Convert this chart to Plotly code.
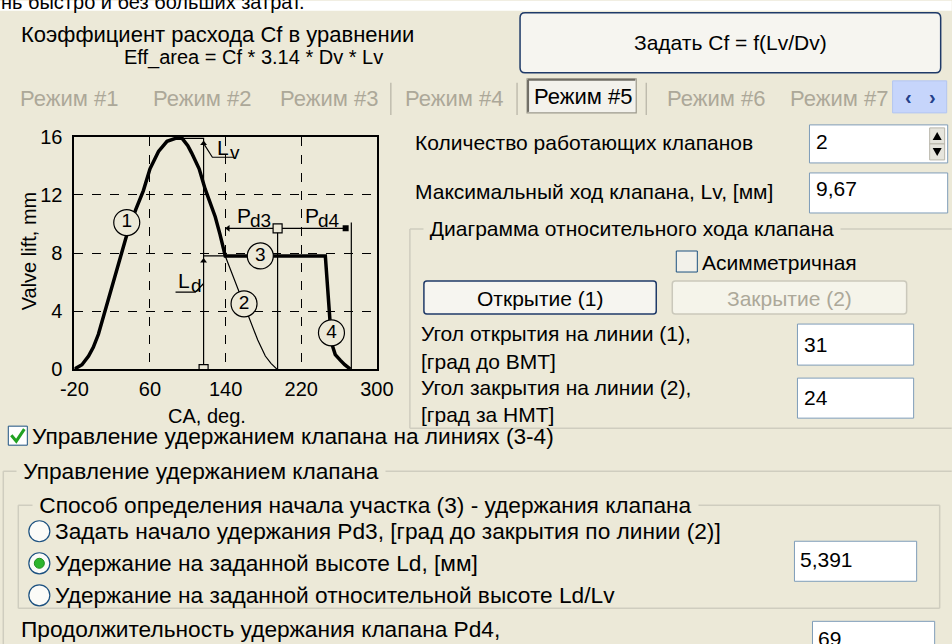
import plotly.graph_objects as go

# ── Data ────────────────────────────────────────────────────────
# thick line: opening (1), closing (2) down to hold level, hold (3), final closing (4)
lift_ca = [-20, -12, -5, 0, 5.4, 12.5, 21, 30, 37, 45, 53, 60, 69, 78, 87, 94,
           100, 104, 112, 118.4, 124, 129, 134, 137.8, 139.6,
           245.5, 247, 249, 251, 252.6, 256, 261.5, 266, 272]
lift_mm = [0, 0.3, 0.9, 1.5, 2.4, 4.0, 6.0, 8.0, 9.6, 11.0, 12.3, 13.8, 15.0, 15.7, 15.9, 15.9,
           15.4, 14.9, 13.8, 12.4, 11.4, 10.5, 9.3, 8.4, 7.8,
           7.8, 6.3, 4.2, 2.8, 1.7, 1.0, 0.6, 0.3, 0]

# thin line: closing (2) without hold
close_ca = [139.6, 145, 150, 155.5, 160, 166, 174, 182, 188, 194.3]
close_mm = [7.8, 6.9, 6.0, 5.15, 4.4, 3.3, 2.0, 0.9, 0.4, 0]

# circled line numbers
circ_ca = [35.4, 159.5, 176.7, 252]
circ_mm = [10.1, 4.5, 7.8, 2.5]
circ_txt = ["1", "2", "3", "4"]

# dimension marks
lv_ca, lv_mm = 116.7, 15.9      # Lv (max lift)
ld_mm = 7.8                      # Ld (hold height)
hold_start = 139.6
pd3_end, pd4_end = 195, 273
pd_level = 9.7

x_ticks = [-20, 60, 140, 220, 300]
x_tick_text = ["-20", "60", "140", "220", "300"]
y_ticks = [0, 4, 8, 12, 16]

# ── Style ───────────────────────────────────────────────────────
W, H = 952, 644
BG = "#ECE9D8"
GRAY_TXT = "#ACA899"
EDIT_BORDER = "#7F9DB9"
GROUP_LINE = "#CFCDBF"
BTN_BORDER = "#1F3A68"
FONT = "Liberation Sans"
FS = 22        # top-left captions and tabs
FS_R = 21      # right panel
FS_L = 22.7    # lower panel

# the page is photographed slightly shrunk and inset; place things so they land
# on the wanted screen pixels
SX, SY, OX, OY = 0.966, 0.965, 15.7, 10.2

# plot area in screen pixels
PX0, PX1, PY0, PY1 = 76, 378, 136, 368


def X(px):
    return ((px - OX) / SX) / W


def Y(py):
    return 1 - ((py - OY) / SY) / H


shapes = []
notes = []


def rect(x0, y0, x1, y1, fill, line=None, lw=1):
    shapes.append(dict(type="rect", xref="paper", yref="paper",
                       x0=X(x0), x1=X(x1), y0=Y(y1), y1=Y(y0),
                       fillcolor=fill,
                       line=dict(color=line or fill, width=lw if line else 0)))


def rrect(x0, y0, x1, y1, r, fill, line, lw=1.5):
    p = (f"M {X(x0 + r)},{Y(y0)} L {X(x1 - r)},{Y(y0)} "
         f"Q {X(x1)},{Y(y0)} {X(x1)},{Y(y0 + r)} L {X(x1)},{Y(y1 - r)} "
         f"Q {X(x1)},{Y(y1)} {X(x1 - r)},{Y(y1)} L {X(x0 + r)},{Y(y1)} "
         f"Q {X(x0)},{Y(y1)} {X(x0)},{Y(y1 - r)} L {X(x0)},{Y(y0 + r)} "
         f"Q {X(x0)},{Y(y0)} {X(x0 + r)},{Y(y0)} Z")
    shapes.append(dict(type="path", xref="paper", yref="paper", path=p,
                       fillcolor=fill, line=dict(color=line, width=lw)))


def seg(x0, y0, x1, y1, color=GROUP_LINE, w=1.5):
    shapes.append(dict(type="line", xref="paper", yref="paper",
                       x0=X(x0), x1=X(x1), y0=Y(y0), y1=Y(y1),
                       line=dict(color=color, width=w)))


def circle(cx, cy, r, fill, line, lw=1.2):
    shapes.append(dict(type="circle", xref="paper", yref="paper",
                       x0=X(cx - r), x1=X(cx + r), y0=Y(cy + r), y1=Y(cy - r),
                       fillcolor=fill, line=dict(color=line, width=lw)))


def poly(pts, fill, line=None, lw=0):
    p = "M " + " L ".join(f"{X(a)},{Y(b)}" for a, b in pts) + " Z"
    shapes.append(dict(type="path", xref="paper", yref="paper", path=p,
                       fillcolor=fill, line=dict(color=line or fill, width=lw)))


def label(x, y, text, size=FS, color="#000000", anchor="left", bg=None, yanchor="middle"):
    notes.append(dict(xref="paper", yref="paper", x=X(x), y=Y(y), text=text,
                      showarrow=False, xanchor=anchor, yanchor=yanchor,
                      font=dict(family=FONT, size=size, color=color),
                      bgcolor=bg, borderpad=0))


# ── Top strip ───────────────────────────────────────────────────
rect(0, 0, W, 10, "#FFFFFF")
label(2, 13, "нь быстро и без больших затрат.", size=20, yanchor="bottom")

label(22, 34, "Коэффициент расхода Cf в уравнении")
label(125, 57, "Eff_area = Cf * 3.14 * Dv * Lv", size=20)

rrect(521, 12, 941, 72, 5, "#F6F5F0", BTN_BORDER)
label(731, 42, "Задать Cf = f(Lv/Dv)", size=21, anchor="center")

# tabs
for tx, tt in [(21, "Режим #1"), (153, "Режим #2"), (280, "Режим #3"),
               (405, "Режим #4"), (667, "Режим #6"), (790, "Режим #7")]:
    label(tx, 98, tt, color=GRAY_TXT)
for sx in [392, 518, 647]:
    seg(sx, 82, sx, 114, color="#B5B2A4", w=1.2)
rect(528, 78, 637, 112, "#F3F2EC", "#9C998C", 1.2)
seg(529, 79, 636, 79, color="#6F6D64", w=2)
seg(529, 79, 529, 111, color="#6F6D64", w=2)
label(584, 96, "Режим #5", anchor="center")
rect(893, 80, 947, 112, "#C6D5FB", "#B3C6F0", 1)
label(909, 96, "<b>‹</b>", size=20, color="#24408A", anchor="center")
label(933, 96, "<b>›</b>", size=20, color="#24408A", anchor="center")

# ── Right panel ─────────────────────────────────────────────────
label(415, 142, "Количество работающих клапанов", size=FS_R)
rect(810, 124, 948, 162, "#FFFFFF", EDIT_BORDER)
label(816, 141, "2", size=FS_R)
rect(930, 127, 945, 143, "#E6E5DD", "#B8B6AA", 1)
rect(930, 143, 945, 159, "#E6E5DD", "#B8B6AA", 1)
poly([(933, 139), (942, 139), (937.5, 131)], "#000000")
poly([(933, 147), (942, 147), (937.5, 155)], "#000000")

label(415, 191, "Максимальный ход клапана, Lv, [мм]", size=FS_R)
rect(810, 172, 948, 212, "#FFFFFF", EDIT_BORDER)
label(816, 188, "9,67", size=FS_R)

seg(411, 228, W, 228)
seg(411, 228, 411, 427)
seg(411, 427, W, 427)
label(424, 228, " Диаграмма относительного хода клапана ", size=FS_R, bg=BG)

rect(677, 250, 698, 271, "#F2F1EA", "#1C5180", 1)
label(702, 261, "Асимметричная", size=FS_R)

rrect(425, 280, 657, 313, 3, "#F6F5F0", BTN_BORDER)
label(541, 297, "Открытие (1)", size=FS_R, anchor="center")
rrect(673, 280, 907, 313, 3, "#F5F4EA", "#CAC8BB")
label(790, 297, "Закрытие (2)", size=FS_R, anchor="center", color=GRAY_TXT)

label(421, 332, "Угол открытия на линии (1),", size=FS_R)
label(421, 360, "[град до ВМТ]", size=FS_R)
rect(798, 323, 914, 364, "#FFFFFF", EDIT_BORDER)
label(804, 343, "31", size=FS_R)
label(421, 386, "Угол закрытия на линии (2),", size=FS_R)
label(421, 413, "[град за НМТ]", size=FS_R)
rect(798, 377, 914, 417, "#FFFFFF", EDIT_BORDER)
label(804, 396, "24", size=FS_R)

# ── Lower panel ─────────────────────────────────────────────────
rect(10, 425, 29, 444, "#FFFFFF", "#1C5180", 1)
shapes.append(dict(type="path", xref="paper", yref="paper",
                   path=f"M {X(13)},{Y(434)} L {X(18)},{Y(440)} L {X(26)},{Y(428)}",
                   line=dict(color="#21A121", width=3)))
label(33, 435, "Управление удержанием клапана на линиях (3-4)", size=FS_L)

seg(5, 470, W, 470)
seg(5, 470, 5, H)
label(18, 470, " Управление удержанием клапана ", size=FS_L, bg=BG)

seg(20, 504, 940, 504)
seg(20, 504, 20, 607)
seg(940, 504, 940, 607)
seg(20, 607, 940, 607)
label(34, 504, " Способ определения начала участка (3) - удержания клапана ", size=FS_L, bg=BG)

for ry, rt in [(530, "Задать начало удержания Pd3, [град до закрытия по линии (2)]"),
               (562, "Удержание на заданной высоте Ld, [мм]"),
               (594, "Удержание на заданной относительной высоте Ld/Lv")]:
    circle(41, ry, 10.5, "#FBFBF8", "#1C5180")
    label(56, ry, rt, size=FS_L)
circle(41, 562, 5, "#2DB52D", "#1E8E1E", 1)

rect(795, 540, 917, 580, "#FFFFFF", EDIT_BORDER)
label(800, 558, "5,391", size=FS_R)

label(22, 628, "Продолжительность удержания клапана Pd4,", size=FS_L)
rect(813, 620, 935, 664, "#FFFFFF", EDIT_BORDER)
label(818, 637, "69", size=FS_R)

# ── Chart ───────────────────────────────────────────────────────
fig = go.Figure()
thin = dict(color="#000000", width=1.2)

# dimension lines
fig.add_trace(go.Scatter(x=[87, lv_ca, lv_ca], y=[lv_mm, lv_mm, 0], mode="lines", line=thin))
fig.add_trace(go.Scatter(x=[lv_ca, hold_start], y=[ld_mm, ld_mm], mode="lines", line=thin))
fig.add_trace(go.Scatter(x=[hold_start + 2, pd4_end - 6], y=[pd_level, pd_level], mode="lines", line=thin))
fig.add_trace(go.Scatter(x=[pd3_end, pd3_end], y=[0, pd_level], mode="lines", line=thin))
fig.add_trace(go.Scatter(x=[pd4_end, pd4_end], y=[0, pd_level + 0.4], mode="lines", line=thin))
# leader lines for Lv and Ld
fig.add_trace(go.Scatter(x=[lv_ca + 0.5, 126, 149], y=[lv_mm - 0.4, 14.6, 14.6], mode="lines", line=thin))
fig.add_trace(go.Scatter(x=[87, 108, lv_ca], y=[5.3, 5.3, 5.9], mode="lines", line=thin))

# closing line without hold
fig.add_trace(go.Scatter(x=close_ca, y=close_mm, mode="lines", line=dict(color="#000000", width=1.2)))
# actual valve lift
fig.add_trace(go.Scatter(x=lift_ca, y=lift_mm, mode="lines", line=dict(color="#000000", width=3.5)))

# arrow heads and end marks
fig.add_trace(go.Scatter(x=[lv_ca, lv_ca], y=[lv_mm - 0.35, ld_mm - 0.35], mode="markers",
                         marker=dict(symbol="triangle-up", size=6, color="#000000")))
fig.add_trace(go.Scatter(x=[hold_start + 3], y=[pd_level], mode="markers",
                         marker=dict(symbol="triangle-left", size=6, color="#000000")))
fig.add_trace(go.Scatter(x=[pd4_end - 6], y=[pd_level], mode="markers",
                         marker=dict(symbol="square", size=6, color="#000000")))
fig.add_trace(go.Scatter(x=[lv_ca, pd3_end], y=[0, pd_level], mode="markers",
                         marker=dict(symbol="square", size=9, color=BG,
                                     line=dict(color="#000000", width=1.2))))

# circled numbers
fig.add_trace(go.Scatter(x=circ_ca, y=circ_mm, mode="markers+text", text=circ_txt,
                         textposition="middle center",
                         textfont=dict(family=FONT, size=19, color="#000000"),
                         marker=dict(symbol="circle", size=26, color=BG,
                                     line=dict(color="#000000", width=1.2))))

# dimension labels: main letter and a slightly lowered index
chart_notes = [
    (129, 15.3, "L", "v"),
    (87, 6.1, "L", "d"),
    (150, 10.6, "P", "d3"),
    (222, 10.6, "P", "d4"),
]
for nx, ny, main, idx in chart_notes:
    notes.append(dict(xref="x", yref="y", x=nx, y=ny, text=main,
                      showarrow=False, xanchor="left", yanchor="middle",
                      font=dict(family=FONT, size=21, color="#000000")))
    notes.append(dict(xref="x", yref="y", x=nx + 14, y=ny - 0.35, text=idx,
                      showarrow=False, xanchor="left", yanchor="middle",
                      font=dict(family=FONT, size=19, color="#000000")))

# axis titles
label(31, 250, "Valve lift, mm", size=20, anchor="center")
notes[-1]["textangle"] = -90
label(208, 415, "CA, deg.", size=20, anchor="center")

axis_common = dict(showgrid=True, gridcolor="#000000", griddash="dash", gridwidth=1.2,
                   showline=True, mirror=True, linecolor="#000000", linewidth=2,
                   zeroline=False, ticks="outside", tickcolor=BG,
                   tickfont=dict(family=FONT, size=20, color="#000000"), fixedrange=True)

fig.update_layout(
    width=W, height=H,
    margin=dict(l=0, r=0, t=0, b=0),
    paper_bgcolor=BG, plot_bgcolor=BG,
    showlegend=False,
    xaxis=dict(domain=[X(PX0), X(PX1)], range=[-20, 300], tickvals=x_ticks,
               ticktext=x_tick_text, ticklen=1, **axis_common),
    yaxis=dict(domain=[Y(PY1), Y(PY0)], range=[0, 16], tickvals=y_ticks,
               ticklen=6, **axis_common),
    shapes=shapes,
    annotations=notes,
    font=dict(family=FONT, size=FS, color="#000000"),
)

fig.write_html("out.html", config={"displayModeBar": False},
               post_script="document.body.style.margin='0';document.body.style.overflow='hidden';"
                           "document.documentElement.style.background='" + BG + "';"
                           "document.body.style.background='" + BG + "';")
